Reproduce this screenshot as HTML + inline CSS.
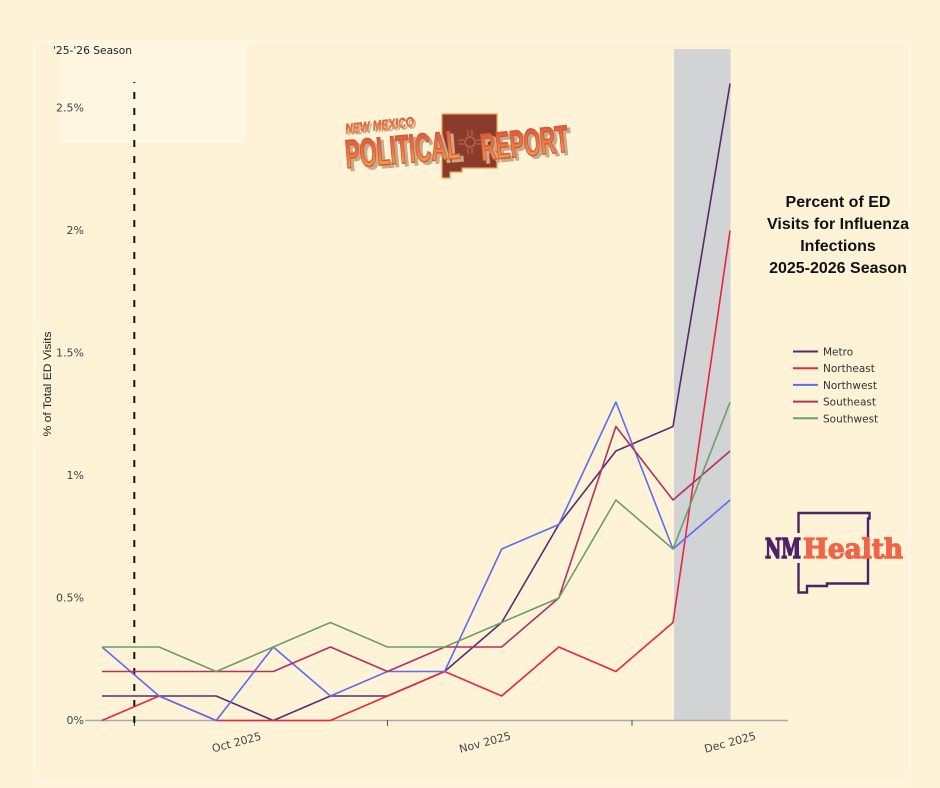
<!DOCTYPE html>
<html>
<head>
<meta charset="utf-8">
<style>
html,body{margin:0;padding:0;background:#fef3d7;}
svg{display:block;}
</style>
</head>
<body>
<svg width="940" height="788" viewBox="0 0 940 788" xmlns="http://www.w3.org/2000/svg">
  <defs>
    <linearGradient id="lg" x1="0" y1="0" x2="0" y2="1">
      <stop offset="0" stop-color="#d9503e"/>
      <stop offset="0.5" stop-color="#eb7a3e"/>
      <stop offset="1" stop-color="#f6b24c"/>
    </linearGradient>
  </defs>
  <!-- background -->
  <rect x="0" y="0" width="940" height="788" fill="#fef3d7"/>
  <!-- panel frame -->
  <rect x="34.5" y="41.5" width="875" height="742" fill="none" stroke="#fff6e4" stroke-width="3"/>
  <!-- light box top-left -->
  <rect x="61" y="43" width="185" height="100" fill="#fff6e2"/>
  <text x="53" y="54" font-family="'DejaVu Sans','Liberation Sans',sans-serif" font-size="10.5" fill="#222" textLength="79" lengthAdjust="spacingAndGlyphs">'25-'26 Season</text>

  <!-- grey shaded band -->
  <rect x="674" y="49" width="56.5" height="671.5" fill="#d2d3d5"/>

  <!-- y tick labels -->
  <g font-family="'DejaVu Sans','Liberation Sans',sans-serif" font-size="11" fill="#444" text-anchor="end">
    <text x="84" y="111.5">2.5%</text>
    <text x="84" y="234">2%</text>
    <text x="84" y="356.5">1.5%</text>
    <text x="84" y="479">1%</text>
    <text x="84" y="601.5">0.5%</text>
    <text x="84" y="724">0%</text>
  </g>
  <!-- y title -->
  <text transform="translate(51,384) rotate(-90)" text-anchor="middle" font-family="'Liberation Sans',sans-serif" font-size="11" fill="#222" textLength="105" lengthAdjust="spacingAndGlyphs">% of Total ED Visits</text>

  <!-- x axis -->
  <line x1="85" y1="720.5" x2="788" y2="720.5" stroke="#a8a8a8" stroke-width="1.5"/>
  <g stroke="#555" stroke-width="1">
    <line x1="134.5" y1="720" x2="134.5" y2="726"/>
    <line x1="387.5" y1="720" x2="387.5" y2="726"/>
    <line x1="632" y1="720" x2="632" y2="726"/>
  </g>
  <g font-family="'DejaVu Sans','Liberation Sans',sans-serif" font-size="11" fill="#444" text-anchor="middle">
    <text transform="translate(237.5,746) rotate(-15)">Oct 2025</text>
    <text transform="translate(486,746) rotate(-15)">Nov 2025</text>
    <text transform="translate(731,746) rotate(-15)">Dec 2025</text>
  </g>

  <!-- dashed season line -->
  <line x1="134.3" y1="82" x2="134.3" y2="726" stroke="#111" stroke-width="2" stroke-dasharray="7 9" stroke-dashoffset="6"/>

  <!-- series -->
  <g fill="none" stroke-width="1.6" stroke-linejoin="round">
    <polyline stroke="#5c2a6e" points="102,696 159.1,696 216.2,696 273.3,720.5 330.4,696 387.5,696 444.6,671.5 501.7,622.5 558.8,524.5 615.9,451 673,426.5 730.1,83.5"/>
    <polyline stroke="#e8263f" points="102,720.5 159.1,696 216.2,720.5 273.3,720.5 330.4,720.5 387.5,696 444.6,671.5 501.7,696 558.8,647 615.9,671.5 673,622.5 730.1,230.5"/>
    <polyline stroke="#5b6cf5" points="102,647 159.1,696 216.2,720.5 273.3,647 330.4,696 387.5,671.5 444.6,671.5 501.7,549 558.8,524.5 615.9,402 673,549 730.1,500"/>
    <polyline stroke="#b3305f" points="102,671.5 159.1,671.5 216.2,671.5 273.3,671.5 330.4,647 387.5,671.5 444.6,647 501.7,647 558.8,598 615.9,426.5 673,500 730.1,451"/>
    <polyline stroke="#6b9e68" points="102,647 159.1,647 216.2,671.5 273.3,647 330.4,622.5 387.5,647 444.6,647 501.7,622.5 558.8,598 615.9,500 673,549 730.1,402"/>
  </g>

  <!-- title -->
  <g font-family="'Liberation Sans',sans-serif" font-size="16" font-weight="bold" fill="#111" text-anchor="middle">
    <text x="838" y="207">Percent of ED</text>
    <text x="838" y="229">Visits for Influenza</text>
    <text x="838" y="251">Infections</text>
    <text x="838" y="273">2025-2026 Season</text>
  </g>

  <!-- legend -->
  <g stroke-width="2">
    <line x1="793" y1="351.5" x2="818" y2="351.5" stroke="#5c2a6e"/>
    <line x1="793" y1="368.2" x2="818" y2="368.2" stroke="#e8263f"/>
    <line x1="793" y1="384.9" x2="818" y2="384.9" stroke="#5b6cf5"/>
    <line x1="793" y1="401.6" x2="818" y2="401.6" stroke="#b3305f"/>
    <line x1="793" y1="418.3" x2="818" y2="418.3" stroke="#6b9e68"/>
  </g>
  <g font-family="'DejaVu Sans','Liberation Sans',sans-serif" font-size="10.5" fill="#333">
    <text x="823" y="355.5">Metro</text>
    <text x="823" y="372.2">Northeast</text>
    <text x="823" y="388.9">Northwest</text>
    <text x="823" y="405.6">Southeast</text>
    <text x="823" y="422.3">Southwest</text>
  </g>

  <!-- NMHealth logo -->
  <path d="M798.5,533 V513 H869.5 V518.5 H868 V583.5 H827 V586 H807 V592.5 H798.5 V563" fill="none" stroke="#4b2264" stroke-width="2.4"/>
  <text x="765" y="558" font-family="'DejaVu Serif','Liberation Serif',serif" font-weight="bold" font-size="27" fill="#4f2267" stroke="#4f2267" stroke-width="1.6" textLength="36" lengthAdjust="spacingAndGlyphs">NM</text>
  <text x="803" y="558" font-family="'DejaVu Serif','Liberation Serif',serif" font-weight="bold" font-size="27" fill="#ef6548" stroke="#ef6548" stroke-width="1.3" textLength="100" lengthAdjust="spacingAndGlyphs">Health</text>

  <!-- New Mexico Political Report logo -->
  <g>
    <path d="M442,114 H497 V168 H462 V172 H450 V178 H442 Z" fill="#8b3a2b" stroke="#eaa24a" stroke-width="1.2"/>
    <circle cx="470" cy="142" r="5" fill="none" stroke="#b7715a" stroke-width="1.2"/>
    <g stroke="#b7715a" stroke-width="1">
      <line x1="458" y1="140" x2="464" y2="140"/><line x1="458" y1="144" x2="464" y2="144"/>
      <line x1="476" y1="140" x2="482" y2="140"/><line x1="476" y1="144" x2="482" y2="144"/>
      <line x1="468" y1="130" x2="468" y2="136"/><line x1="472" y1="130" x2="472" y2="136"/>
      <line x1="468" y1="148" x2="468" y2="154"/><line x1="472" y1="148" x2="472" y2="154"/>
    </g>
    <g font-family="'Liberation Sans Narrow','Liberation Sans',sans-serif" font-weight="bold">
      <g transform="rotate(-6 380 124)">
        <text x="347" y="132" font-size="14" fill="#c9a98c" font-style="italic" textLength="69" lengthAdjust="spacingAndGlyphs">NEW MEXICO</text>
        <text x="345" y="130" font-size="14" fill="url(#lg)" stroke="#d9603e" stroke-width="0.5" font-style="italic" textLength="69" lengthAdjust="spacingAndGlyphs">NEW MEXICO</text>
      </g>
      <g transform="rotate(-5 404 150)">
        <text x="348" y="166" font-size="40" fill="#c9a98c" stroke="#c9a98c" stroke-width="1.5" textLength="115" lengthAdjust="spacingAndGlyphs">POLITICAL</text>
        <text x="345" y="163" font-size="40" fill="url(#lg)" stroke="#d0583c" stroke-width="1.4" textLength="115" lengthAdjust="spacingAndGlyphs">POLITICAL</text>
      </g>
      <g transform="rotate(-6 525 140)">
        <text x="483" y="159" font-size="38" fill="#c9a98c" stroke="#c9a98c" stroke-width="1.5" textLength="88" lengthAdjust="spacingAndGlyphs">REPORT</text>
        <text x="480" y="156" font-size="38" fill="url(#lg)" stroke="#d0583c" stroke-width="1.4" textLength="88" lengthAdjust="spacingAndGlyphs">REPORT</text>
      </g>
    </g>
  </g>
</svg>
</body>
</html>
